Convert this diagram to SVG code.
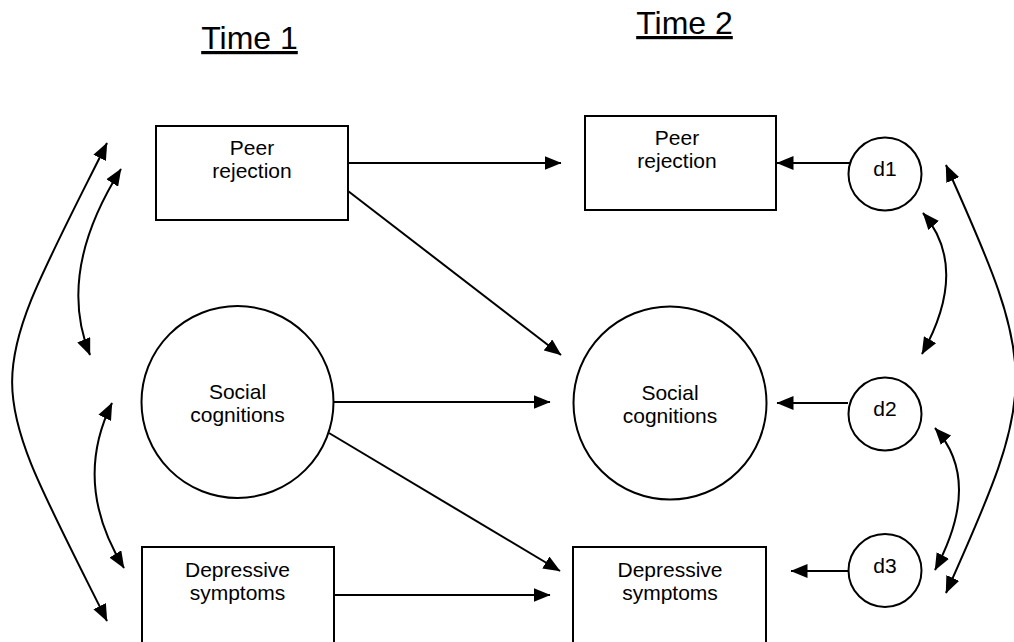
<svg xmlns="http://www.w3.org/2000/svg" width="1014" height="642" viewBox="0 0 1014 642">
<style>
.shape{fill:#fff;stroke:#000;stroke-width:2}
.lbl{font-family:"Liberation Sans",Arial,sans-serif;font-size:21px;fill:#000;text-anchor:middle}
.title{font-family:"Liberation Sans",Arial,sans-serif;font-size:32px;fill:#000;text-anchor:middle;text-decoration:underline}
.edge{fill:none;stroke:#000;stroke-width:2}
.one{marker-end:url(#ah)}
.two{marker-start:url(#ah);marker-end:url(#ah)}
</style>
<defs>
<marker id="ah" markerUnits="userSpaceOnUse" markerWidth="18" markerHeight="14" refX="16.5" refY="7" orient="auto-start-reverse" viewBox="0 0 18 14">
<path d="M0,0 L17,7 L0,14 Z" fill="#000"/>
</marker>
</defs>
<rect width="1014" height="642" fill="#fff"/>
<g id="titles">
<text class="title" x="249.5" y="49">Time 1</text>
<text class="title" x="684.5" y="34">Time 2</text>
</g>
<g id="connectors">
<line class="edge one" x1="348" y1="163" x2="561" y2="163"/>
<line class="edge one" x1="348" y1="191" x2="561" y2="355"/>
<line class="edge one" x1="333" y1="402" x2="550" y2="402"/>
<line class="edge one" x1="329" y1="433" x2="560" y2="571"/>
<line class="edge one" x1="334" y1="595" x2="550" y2="595"/>
<line class="edge one" x1="850" y1="163" x2="777" y2="163"/>
<line class="edge one" x1="848" y1="403" x2="777" y2="403"/>
<line class="edge one" x1="848" y1="571" x2="791" y2="571"/>
<path class="edge two" d="M107,143 C-19.5,396 -19.5,368 107,621"/>
<path class="edge two" d="M121,169 Q56,272 90,355"/>
<path class="edge two" d="M112,403 Q72,484 124,568"/>
<path class="edge two" d="M923,213 Q970,268 922,354"/>
<path class="edge two" d="M935,428 Q983,481 935,570"/>
<path class="edge two" d="M946,165 C1039,372 1039,386 946,593"/>
</g>
<g id="peer1">
<rect class="shape" x="156" y="126" width="192" height="94"/>
<text class="lbl" x="252" y="155">Peer</text>
<text class="lbl" x="252" y="178">rejection</text>
</g>
<g id="social1">
<circle class="shape" cx="237.5" cy="402" r="96"/>
<text class="lbl" x="237.5" y="399">Social</text>
<text class="lbl" x="237.5" y="422">cognitions</text>
</g>
<g id="dep1">
<rect class="shape" x="142" y="547" width="192" height="100"/>
<text class="lbl" x="237.5" y="577">Depressive</text>
<text class="lbl" x="237.5" y="600">symptoms</text>
</g>
<g id="peer2">
<rect class="shape" x="585" y="116" width="191" height="94"/>
<text class="lbl" x="677" y="145">Peer</text>
<text class="lbl" x="677" y="168">rejection</text>
</g>
<g id="social2">
<circle class="shape" cx="670" cy="403" r="96.5"/>
<text class="lbl" x="670" y="400">Social</text>
<text class="lbl" x="670" y="423">cognitions</text>
</g>
<g id="dep2">
<rect class="shape" x="573" y="547" width="193" height="100"/>
<text class="lbl" x="670" y="577">Depressive</text>
<text class="lbl" x="670" y="600">symptoms</text>
</g>
<g id="d1">
<circle class="shape" cx="885" cy="174" r="36.5"/>
<text class="lbl" x="885" y="176">d1</text>
</g>
<g id="d2">
<circle class="shape" cx="885" cy="414" r="36.5"/>
<text class="lbl" x="885" y="416">d2</text>
</g>
<g id="d3">
<circle class="shape" cx="885" cy="570.5" r="36.5"/>
<text class="lbl" x="885" y="573">d3</text>
</g>
</svg>
